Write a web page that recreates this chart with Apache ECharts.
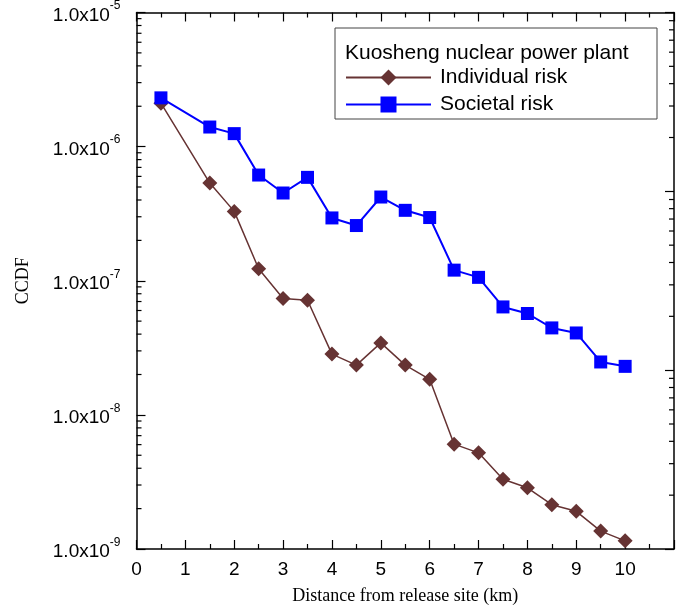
<!DOCTYPE html>
<html>
<head>
<meta charset="utf-8">
<script src="https://cdn.jsdelivr.net/npm/echarts@6/dist/echarts.min.js"></script>
<style>
  html, body { margin: 0; padding: 0; background: #fff; }
  #main { width: 686px; height: 610px; }
</style>
</head>
<body>
<div id="main"></div>
<script>
(function (echarts) {
  'use strict';

  // distance from release site (km)
  var distances = [0.5, 1.5, 2, 2.5, 3, 3.5, 4, 4.5, 5, 5.5, 6, 6.5, 7, 7.5, 8, 8.5, 9, 9.5, 10];

  var individualRisk = [
    2.11e-6, 5.35e-7, 3.29e-7, 1.23e-7, 7.37e-8, 7.16e-8, 2.84e-8, 2.35e-8, 3.44e-8, 2.35e-8,
    1.84e-8, 6.05e-9, 5.21e-9, 3.31e-9, 2.86e-9, 2.14e-9, 1.91e-9, 1.36e-9, 1.15e-9
  ];

  var societalRisk = [
    2.31e-6, 1.40e-6, 1.25e-6, 6.14e-7, 4.51e-7, 5.90e-7, 2.94e-7, 2.58e-7, 4.21e-7, 3.35e-7,
    2.96e-7, 1.20e-7, 1.06e-7, 6.38e-8, 5.70e-8, 4.45e-8, 4.08e-8, 2.48e-8, 2.30e-8
  ];

  var xTicks = [0, 1, 2, 3, 4, 5, 6, 7, 8, 9, 10];
  var leftDecades = [1e-9, 1e-8, 1e-7, 1e-6];
  var rightDecades = [1, 10, 100];
  var minorSteps = [2, 3, 4, 5, 6, 7, 8, 9];

  var sans = 'Liberation Sans';
  var serif = 'Liberation Serif';

  function pairs(xs, ys) {
    return xs.map(function (x, i) { return [x, ys[i]]; });
  }

  function minorValues(decades) {
    var out = [];
    decades.forEach(function (d) {
      minorSteps.forEach(function (m) { out.push([0, d * m]); });
    });
    return out;
  }

  // short log ticks (2..9 of each decade), drawn inside the frame
  function minorTicks(side) {
    return function (params, api) {
      var cs = params.coordSys;
      var y = api.coord([0, api.value(1)])[1];
      var x0 = side === 'left' ? cs.x : cs.x + cs.width;
      var x1 = side === 'left' ? x0 + 5 : x0 - 5;
      return {
        type: 'line',
        shape: {x1: x0, y1: y, x2: x1, y2: y},
        style: {stroke: '#000', lineWidth: 1.2}
      };
    };
  }

  function supLabel(v) {
    var e = Math.round(Math.log(v) / Math.LN10);
    return '{b|1.0x10}{s|' + e + '}';
  }

  var axisLine = {show: true, onZero: false, lineStyle: {color: '#000', width: 1.5}};
  var majorTick = {inside: true, length: 9, lineStyle: {color: '#000', width: 1.2}};

  echarts.init(document.getElementById('main')).setOption({
    backgroundColor: '#fff',
    animation: false,
    grid: {left: 136.5, right: 12, top: 12, bottom: 61},
    graphic: [
      {
        type: 'rect',
        shape: {x: 335, y: 28, width: 322, height: 91},
        style: {fill: '#fff', stroke: '#444', lineWidth: 1},
        z: 10
      },
      {
        type: 'text',
        x: 345,
        y: 53,
        style: {
          text: 'Kuosheng nuclear power plant',
          font: '21px "Liberation Sans"',
          fill: '#000',
          verticalAlign: 'middle'
        },
        z: 11
      }
    ],
    legend: {
      orient: 'vertical',
      left: 345,
      top: 67,
      padding: 0,
      itemWidth: 85,
      itemHeight: 20,
      itemGap: 6,
      z: 12,
      data: ['Individual risk', 'Societal risk'],
      textStyle: {fontFamily: sans, fontSize: 21, color: '#000', padding: [0, 0, 0, 4]}
    },
    xAxis: [
      {
        type: 'value',
        min: 0,
        max: 11,
        interval: 1,
        name: 'Distance from release site (km)',
        nameLocation: 'middle',
        nameGap: 38,
        nameTextStyle: {fontFamily: serif, fontSize: 18, color: '#000'},
        axisLine: axisLine,
        axisTick: majorTick,
        minorTick: {show: true, splitNumber: 2, length: 5, lineStyle: {color: '#000', width: 1.2}},
        splitLine: {show: false},
        axisLabel: {
          fontFamily: sans,
          fontSize: 19,
          color: '#000',
          margin: 11,
          formatter: function (v) { return xTicks.indexOf(v) >= 0 ? String(v) : ''; }
        }
      },
      {
        type: 'value',
        position: 'top',
        min: 0,
        max: 11,
        interval: 1,
        axisLine: axisLine,
        axisTick: majorTick,
        minorTick: {show: true, splitNumber: 2, length: 5, lineStyle: {color: '#000', width: 1.2}},
        splitLine: {show: false},
        axisLabel: {show: false}
      }
    ],
    yAxis: [
      {
        type: 'log',
        logBase: 10,
        min: 1e-9,
        max: 1e-5,
        name: 'CCDF',
        nameLocation: 'middle',
        nameGap: 104,
        nameTextStyle: {fontFamily: serif, fontSize: 18, color: '#000'},
        axisLine: axisLine,
        axisTick: majorTick,
        splitLine: {show: false},
        axisLabel: {
          margin: 16,
          color: '#000',
          formatter: supLabel,
          rich: {
            b: {fontFamily: sans, fontSize: 19, lineHeight: 25, verticalAlign: 'bottom', color: '#000'},
            s: {fontFamily: sans, fontSize: 12, lineHeight: 12, verticalAlign: 'top', color: '#000'}
          }
        }
      },
      {
        type: 'log',
        logBase: 10,
        position: 'right',
        min: 1,
        max: 1000,
        axisLine: axisLine,
        axisTick: majorTick,
        splitLine: {show: false},
        axisLabel: {show: false}
      }
    ],
    series: [
      {
        name: 'Individual risk',
        type: 'line',
        data: pairs(distances, individualRisk),
        symbol: 'diamond',
        symbolSize: 15,
        lineStyle: {color: '#663333', width: 1.5},
        itemStyle: {color: '#663333'},
        z: 3
      },
      {
        name: 'Societal risk',
        type: 'line',
        data: pairs(distances, societalRisk),
        symbol: 'rect',
        symbolSize: 13,
        lineStyle: {color: '#0000ff', width: 2},
        itemStyle: {color: '#0000ff'},
        z: 4
      },
      {
        type: 'custom',
        silent: true,
        yAxisIndex: 0,
        renderItem: minorTicks('left'),
        data: minorValues(leftDecades),
        z: 1
      },
      {
        type: 'custom',
        silent: true,
        yAxisIndex: 1,
        renderItem: minorTicks('right'),
        data: minorValues(rightDecades),
        z: 1
      }
    ]
  });
})(window.echarts);
</script>
</body>
</html>
